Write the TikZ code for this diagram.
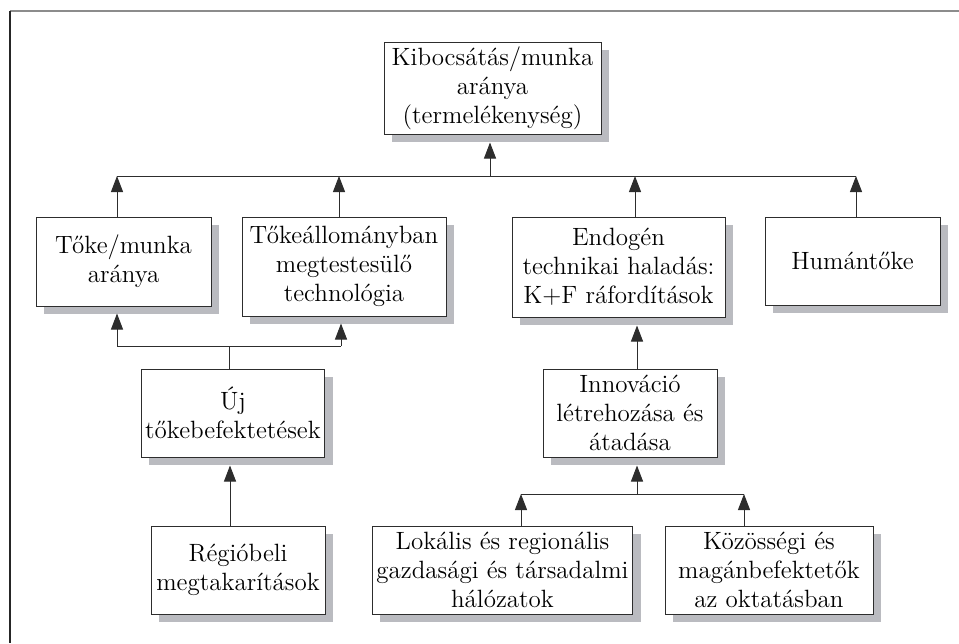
\documentclass[tikz,border=0pt]{standalone}
\usepackage{tikz}
\usetikzlibrary{arrows.meta,shadows}

\definecolor{arnyek}{RGB}{186,187,192}
\definecolor{vonalszin}{RGB}{45,45,45}

\begin{document}
\begin{tikzpicture}[x=0.5pt,y=-0.5pt,
    doboz/.style={draw=vonalszin, line width=0.5pt, fill=white, align=center,
        inner sep=2pt, font=\fontsize{12.5}{14.5}\selectfont,
        drop shadow={shadow xshift=4pt, shadow yshift=-4pt, fill=arnyek, opacity=1}},
    vonal/.style={draw=vonalszin, line width=0.5pt},
    nyil/.style={vonal, -{Triangle[length=8pt,width=6pt]}}]
    \useasboundingbox (0,0) rectangle (959,643);

    % keret
    \draw[line width=1pt, black!45] (10,11) -- (959,11);
    \draw[line width=0.6pt, black!85] (10,11) -- (10,643);

    % dobozok
    \node[doboz, minimum width=108.5pt, minimum height=46pt] (kib) at (492.5,88)
        {Kibocsátás/munka\\aránya\\(termelékenység)};
    \node[doboz, minimum width=87.5pt, minimum height=44.5pt] (toke) at (123.5,261.5)
        {Tőke/munka\\aránya};
    \node[doboz, minimum width=102pt, minimum height=49.5pt] (tokeall) at (344,266.5)
        {Tőkeállományban\\megtestesülő\\technológia};
    \node[doboz, minimum width=106.5pt, minimum height=50pt] (endo) at (618.5,267)
        {Endogén\\technikai haladás:\\K+F ráfordítások};
    \node[doboz, minimum width=87.5pt, minimum height=44pt] (human) at (852.5,261)
        {Humántőke};
    \node[doboz, minimum width=91pt, minimum height=44pt] (uj) at (233,413)
        {Új\\tőkebefektetések};
    \node[doboz, minimum width=87pt, minimum height=44pt] (innov) at (630,413)
        {Innováció\\létrehozása és\\átadása};
    \node[doboz, minimum width=87pt, minimum height=44pt] (regio) at (238,570)
        {Régióbeli\\megtakarítások};
    \node[doboz, minimum width=126.5pt, minimum height=44pt] (lokal) at (502.5,570)
        {Lokális és regionális\\gazdasági és társadalmi\\hálózatok};
    \node[doboz, minimum width=104pt, minimum height=44pt] (kozos) at (769,570)
        {Közösségi és\\magánbefektetők\\az oktatásban};

    % gyűjtővonalak pontjai
    \coordinate (fo) at (490,176);
    \coordinate (b1) at (117,176);
    \coordinate (b2) at (339,176);
    \coordinate (b3) at (635,176);
    \coordinate (b4) at (856,176);
    \coordinate (u0) at (229,346);
    \coordinate (u1) at (117,346);
    \coordinate (u2) at (341,346);
    \coordinate (i0) at (637,494);
    \coordinate (i1) at (521,494);
    \coordinate (i2) at (744,494);

    % felső szint
    \draw[vonal] (b1) -- (b4);
    \draw[nyil, shorten >=4pt] (fo) -- (fo |- kib.south);
    \draw[nyil] (b1 |- toke.north) -- (b1);
    \draw[nyil] (b2 |- tokeall.north) -- (b2);
    \draw[nyil] (b3 |- endo.north) -- (b3);
    \draw[nyil] (b4 |- human.north) -- (b4);

    % bal ág
    \draw[vonal] (u0 |- uj.north) -- (u0);
    \draw[vonal] (u1) -- (u2);
    \draw[nyil, shorten >=3.5pt] (u1) -- (u1 |- toke.south);
    \draw[nyil, shorten >=3.5pt] (u2) -- (u2 |- tokeall.south);
    \draw[nyil, shorten >=4pt] ([xshift=-4pt]regio.north) -- ([xshift=-4pt]regio.north |- uj.south);

    % jobb ág
    \draw[nyil, shorten >=4pt] ([xshift=3.5pt]innov.north) -- ([xshift=3.5pt]innov.north |- endo.south);
    \draw[vonal] (i1) -- (i2);
    \draw[nyil, shorten >=4pt] (i0) -- (i0 |- innov.south);
    \draw[nyil] (i1 |- lokal.north) -- (i1);
    \draw[nyil] (i2 |- kozos.north) -- (i2);
\end{tikzpicture}
\end{document}
